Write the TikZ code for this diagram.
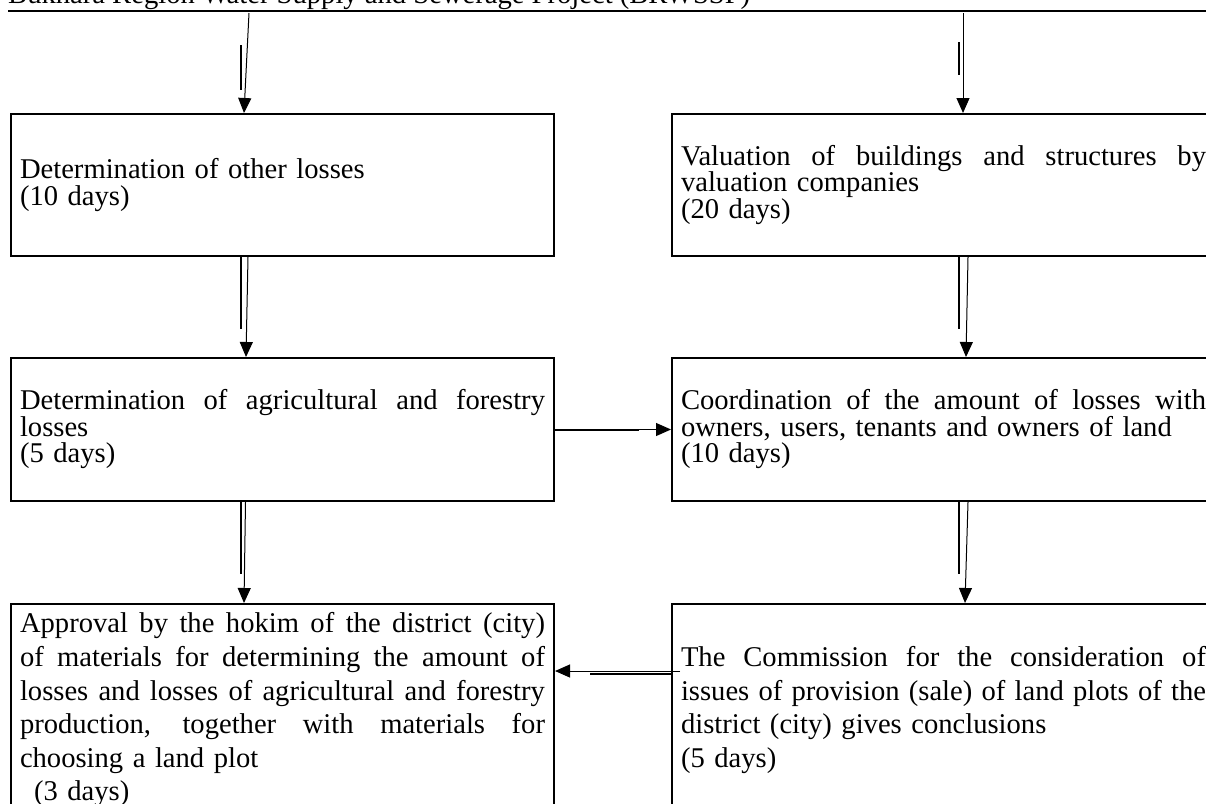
\documentclass[tikz,border=0pt]{standalone}
\usepackage{fontspec}
\setmainfont{Liberation Serif}
\usetikzlibrary{arrows.meta, calc, positioning}
\setlength{\parindent}{0pt}
\newlength{\stagewidth}
\setlength{\stagewidth}{525pt}
\newcommand{\jline}[1]{{\spaceskip=0pt\xspaceskip=0pt\makebox[\stagewidth][s]{#1}}}

\begin{document}
\begin{tikzpicture}[x=1pt, y=-1pt,
		stage/.style={draw, line width=2pt, anchor=north west, inner xsep=9pt, inner ysep=0pt,
			text width=\stagewidth, align=left, font=\fontsize{28.6}{26.5}\selectfont},
		tallstage/.style={stage, font=\fontsize{28.6}{33.6}\selectfont},
		flow/.style={line width=1pt, -{Triangle[width=13pt,length=15pt]}},
		tick/.style={line width=2pt}]
		\useasboundingbox (0,0) rectangle (1206,803);
		\clip (0,0) rectangle (1206,803);
		% header
		\node[anchor=base west, inner sep=0pt, font=\fontsize{28.6}{30}\selectfont] (title) at (8,4) {Bukhara Region Water Supply and Sewerage Project (BRWSSP)};
		\draw[line width=2pt] (8,11)--(1206,11);
		\coordinate (srcL) at (249,13);
		\coordinate (srcR) at (963,13);
		% boxes
		\node[stage, minimum height=142pt] (oth) at (10,113) {Determination of other losses\\(10 days)};
		\node[stage, minimum height=142pt] (val) at (671,113) {\jline{Valuation of buildings and structures by}\\valuation companies\\(20 days)};
		\node[stage, minimum height=143pt] (agri) at (10,357) {\jline{Determination of agricultural and forestry}\\losses\\(5 days)};
		\node[stage, minimum height=143pt] (coord) at (671,357) {\jline{Coordination of the amount of losses with}\\owners, users, tenants and owners of land\\(10 days)};
		\node[tallstage, minimum height=212pt] (appr) at (10,603) {\jline{Approval by the hokim of the district (city)}\\\jline{of materials for determining the amount of}\\\jline{losses and losses of agricultural and forestry}\\\jline{production, together with materials for}\\choosing a land plot\\\hspace*{14pt}(3 days)};
		\node[tallstage, minimum height=212pt] (comm) at (671,603) {\jline{The Commission for the consideration of}\\\jline{issues of provision (sale) of land plots of the}\\district (city) gives conclusions\\(5 days)};
		% down arrows
		\draw[flow] (srcL)--($(oth.north)+(-38.5,0)$);
		\draw[flow] (srcR)--($(val.north)+(19.5,0)$);
		\draw[flow] ($(oth.south)+(-34.5,0)$)--($(agri.north)+(-36.5,0)$);
		\draw[flow] ($(val.south)+(24.5,0)$)--($(coord.north)+(22.5,0)$);
		\draw[flow] ($(agri.south)+(-37,0)$)--($(appr.north)+(-38.5,0)$);
		\draw[flow] ($(coord.south)+(24.5,0)$)--($(comm.north)+(21.5,0)$);
		% side arrows
		\draw[flow] (agri.east)--(coord.west);
		\draw[flow] ($(comm.west)+(9,-39)$)--($(appr.east)+(0,-39)$);
		% doubled strokes
		\draw[tick] ($(oth.north)+(-41.5,-68)$)--++(0,45);
		\draw[tick] ($(val.north)+(15.5,-71)$)--++(0,33);
		\foreach \n in {oth,agri}{
			\draw[tick] ($(\n.south)+(-41.5,0)$)--++(0,72);
		}
		\foreach \n in {val,coord}{
			\draw[tick] ($(\n.south)+(15.5,0)$)--++(0,72);
		}
		\draw[tick] (agri.east)--++(84,0);
		\draw[tick] ($(comm.west)+(0,-36)$)--++(-81,0);
	\end{tikzpicture}
\end{document}
